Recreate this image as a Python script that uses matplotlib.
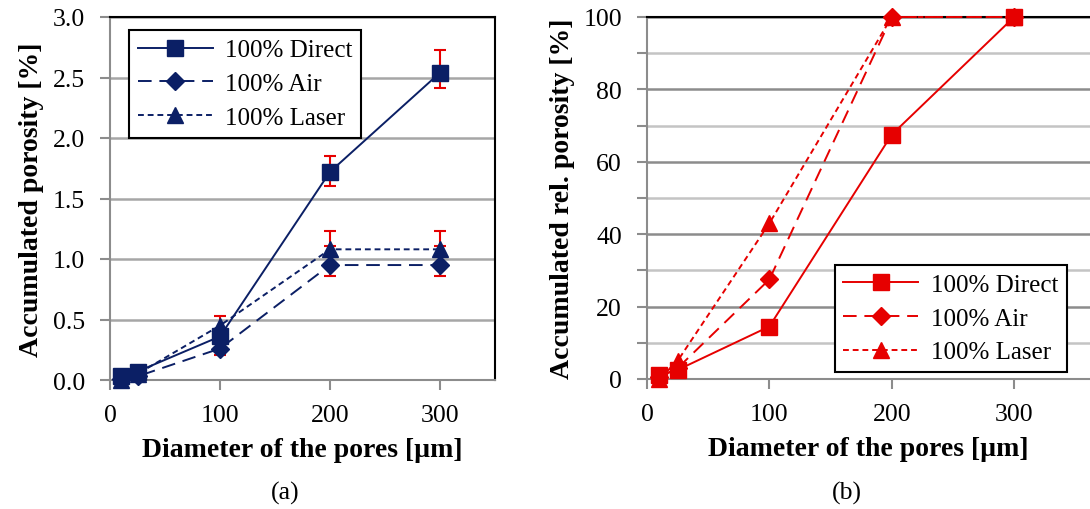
import numpy as np
import matplotlib.pyplot as plt
from matplotlib.ticker import MultipleLocator

plt.rcParams['font.family'] = ['Liberation Serif', 'DejaVu Serif']

# Daten
diam = [10, 25, 100, 200, 300]
labels = ['100% Direct', '100% Air', '100% Laser']

# (a) akkumulierte Porosität [%]
por_direct = [0.03, 0.07, 0.36, 1.72, 2.54]
por_air = [0.01, 0.03, 0.26, 0.95, 0.95]
por_laser = [0.0, 0.05, 0.45, 1.08, 1.08]

# Fehlerbalken (unten / oben)
err_direct_lo = [0, 0, 0.05, 0.12, 0.13]
err_direct_hi = [0, 0, 0.05, 0.13, 0.19]
err_air_lo = [0, 0, 0.05, 0.09, 0.09]
err_air_hi = [0, 0, 0.05, 0.16, 0.16]
err_laser_lo = [0, 0, 0.08, 0.15, 0.15]
err_laser_hi = [0, 0, 0.08, 0.15, 0.15]

# (b) akkumulierte relative Porosität [%]
rel_direct = [1.0, 2.5, 14.5, 67.5, 100]
rel_air = [0.5, 3.0, 27.5, 100, 100]
rel_laser = [0.0, 5.0, 43.0, 100, 100]

navy = '#0b1f65'
red = '#e60000'
styles = [('-', 's', 11), ((0, (7, 4)), 'D', 9.5), ((0, (3, 2)), '^', 12)]

fig = plt.figure(figsize=(10.9, 5.1), dpi=100)
ax1 = fig.add_axes([110 / 1090, 1 - 381 / 510, 385 / 1090, 363 / 510])
ax2 = fig.add_axes([647 / 1090, 1 - 380 / 510, 443 / 1090, 362 / 510])


def style_axes(ax):
    ax.spines['top'].set_color('black')
    ax.spines['right'].set_color('black')
    ax.spines['top'].set_linewidth(1.5)
    ax.spines['right'].set_linewidth(1.5)
    for s in ['left', 'bottom']:
        ax.spines[s].set_color('#8c8c8c')
        ax.spines[s].set_linewidth(1.5)
    ax.tick_params(which='both', direction='out', length=7, width=1.5,
                   color='#8c8c8c', labelsize=18.5)
    ax.tick_params(axis='y', pad=11)
    ax.tick_params(axis='x', pad=10)
    ax.set_axisbelow(True)
    ax.xaxis.set_major_locator(MultipleLocator(100))


def add_legend(ax, loc, anchor):
    leg = ax.legend(loc=loc, bbox_to_anchor=anchor, borderaxespad=0,
                    fontsize=18, handlelength=3.0, handletextpad=0.5,
                    labelspacing=0.45, borderpad=0.35, fancybox=False,
                    framealpha=1, edgecolor='black')
    leg.get_frame().set_linewidth(1.5)
    return leg


# ---- (a)
style_axes(ax1)
ax1.set_xlim(0, 350)
ax1.set_ylim(0, 3.0)
ax1.yaxis.set_major_locator(MultipleLocator(0.5))
ax1.yaxis.set_major_formatter(plt.FormatStrFormatter('%.1f'))
ax1.grid(axis='y', color='#a6a6a6', lw=1.8)

series_a = [por_direct, por_air, por_laser]
errs_a = [(err_direct_lo, err_direct_hi), (err_air_lo, err_air_hi),
          (err_laser_lo, err_laser_hi)]
for vals, err in zip(series_a, errs_a):
    ax1.errorbar(diam, vals, yerr=[err[0], err[1]], fmt='none', ecolor=red,
                 elinewidth=1.5, capsize=4.5, capthick=1.5, zorder=2)
for vals, lab, (ls, mk, ms) in zip(series_a, labels, styles):
    ax1.plot(diam, vals, linestyle=ls, marker=mk, markersize=ms, color=navy,
             lw=1.4, label=lab, zorder=3, clip_on=False)

ax1.set_xlabel('Diameter of the pores [µm]', fontsize=20, fontweight='bold', labelpad=8)
ax1.set_ylabel('Accumulated porosity [%]', fontsize=20, fontweight='bold', labelpad=6)
add_legend(ax1, 'upper left', (0.049, 0.964))

# ---- (b)
style_axes(ax2)
ax2.spines['right'].set_visible(False)
ax2.set_xlim(0, 362)
ax2.set_ylim(0, 100)
ax2.yaxis.set_major_locator(MultipleLocator(20))
ax2.yaxis.set_minor_locator(MultipleLocator(10))
ax2.grid(axis='y', which='major', color='#8c8c8c', lw=1.8)
ax2.grid(axis='y', which='minor', color='#c4c4c4', lw=1.8)

series_b = [rel_direct, rel_air, rel_laser]
for vals, lab, (ls, mk, ms) in zip(series_b, labels, styles):
    ax2.plot(diam, vals, linestyle=ls, marker=mk, markersize=ms, color=red,
             lw=1.4, label=lab, zorder=3, clip_on=False)

ax2.set_xlabel('Diameter of the pores [µm]', fontsize=20, fontweight='bold', labelpad=8)
ax2.set_ylabel('Accumulated rel. porosity [%]', fontsize=20, fontweight='bold', labelpad=6)
add_legend(ax2, 'lower right', (0.948, 0.019))

fig.text(285 / 1090, 1 - 493 / 510, '(a)', ha='center', va='center', fontsize=18.5)
fig.text(847 / 1090, 1 - 493 / 510, '(b)', ha='center', va='center', fontsize=18.5)

fig.savefig('out.png', dpi=100)
